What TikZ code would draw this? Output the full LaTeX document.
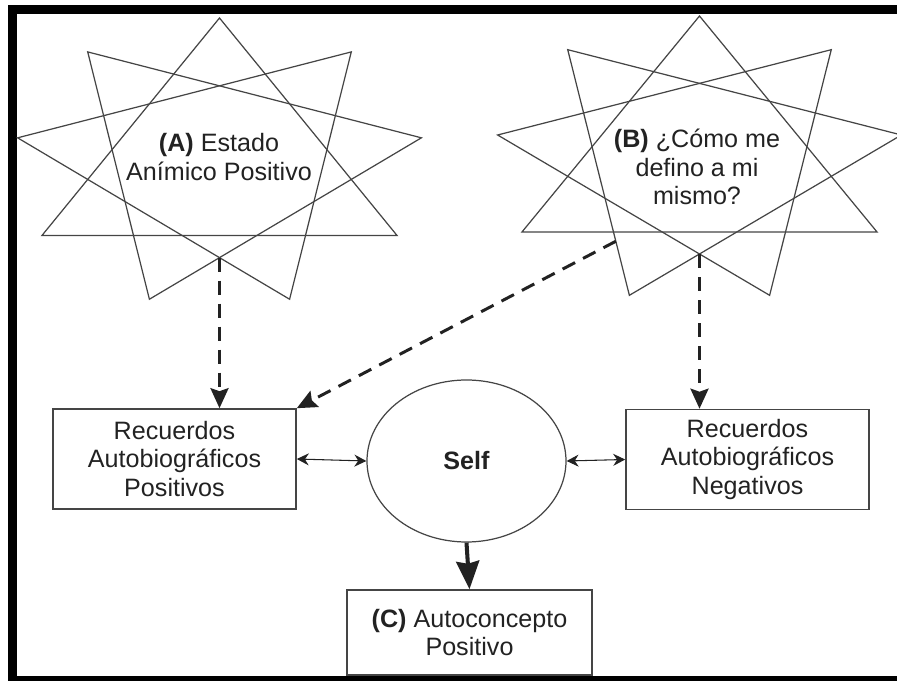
\documentclass[tikz,border=0pt]{standalone}
\usepackage{fontspec}
\setmainfont{Liberation Sans}
\usepackage{xcolor}
\usepackage{tikz}
\usetikzlibrary{calc,arrows.meta,shapes.geometric}
\definecolor{ink}{HTML}{222222}
\definecolor{stroke}{HTML}{454545}
\tikzset{
  frame/.style={draw=black, line width=0.18cm},
  tri/.style={draw=stroke, line width=0.7pt, line join=miter},
  lab/.style={text=ink, align=center, font=\fontsize{14.3}{16.1}\selectfont},
  box/.style={lab, draw=stroke, line width=0.9pt, minimum width=4.86cm, minimum height=2cm, inner sep=0pt},
  oval/.style={lab, ellipse, draw=stroke, line width=0.7pt, minimum width=3.98cm, minimum height=3.24cm, inner sep=0pt},
  lnk/.style={draw=ink, line width=1.7pt, dash pattern=on 0.28cm off 0.18cm,
    -{Stealth[length=0.4cm, width=0.36cm, inset=0.06cm]}},
  pair/.style={draw=ink, line width=0.6pt,
    {Stealth[length=0.24cm, width=0.24cm]}-{Stealth[length=0.24cm, width=0.24cm]}},
  main/.style={draw=ink, line width=2.3pt, -{Stealth[length=0.56cm, width=0.46cm, inset=0.05cm]}},
}

\begin{document}
\begin{tikzpicture}
  \useasboundingbox (0,0) rectangle (17.94,13.62);
  \draw[frame] (0.24,0) rectangle (18.4,13.42);

  % the two stars, three triangles each
  \begin{scope}[shift={(4.39,10.36)}, xscale=4.1, yscale=2.9]
    \draw[tri] (90:1) -- (210:1) -- (330:1) -- cycle;
    \draw[tri] (130:1) -- (250:1) -- (10:1) -- cycle;
    \draw[tri] (170:1) -- (290:1) -- (50:1) -- cycle;
    \coordinate (Abot) at (0,-0.653);
  \end{scope}
  \begin{scope}[shift={(13.99,10.42)}, xscale=4.1, yscale=2.88]
    \draw[tri] (90:1) -- (210:1) -- (330:1) -- cycle;
    \draw[tri] (130:1) -- (250:1) -- (10:1) -- cycle;
    \draw[tri] (170:1) -- (290:1) -- (50:1) -- cycle;
    \coordinate (Bbot) at (0,-0.653);
    \coordinate (Bside) at ($(130:1)!0.78!(250:1)$);
  \end{scope}

  \node[lab] (Atxt) at (4.38,10.48) {\textbf{(A)} Estado\\Anímico Positivo};
  \node[lab] (Btxt) at (13.94,10.28) {\textbf{(B)} ¿Cómo me\\defino a mi\\mismo?};

  \node[box] (RAP) at (3.49,4.44) {Recuerdos\\Autobiográficos\\Positivos};
  \node[box] (RAN) at (14.95,4.43) {Recuerdos\\Autobiográficos\\Negativos};
  \node[oval] (Self) at (9.33,4.40) {\textbf{Self}};
  \node[box, minimum width=4.9cm, minimum height=1.7cm] (C) at (9.39,0.97)
    {\textbf{(C)} Autoconcepto\\Positivo};

  \draw[lnk] (Abot) -- (Abot |- RAP.north);
  \draw[lnk] (Bbot) -- (Bbot |- RAN.north);
  \draw[lnk] (Bside) -- (RAP.north east);

  \draw[pair] (RAP.east) -- (Self.west);
  \draw[pair] (Self.east) -- (RAN.west);
  \draw[main] (Self.south) -- (C.north);
\end{tikzpicture}
\end{document}
